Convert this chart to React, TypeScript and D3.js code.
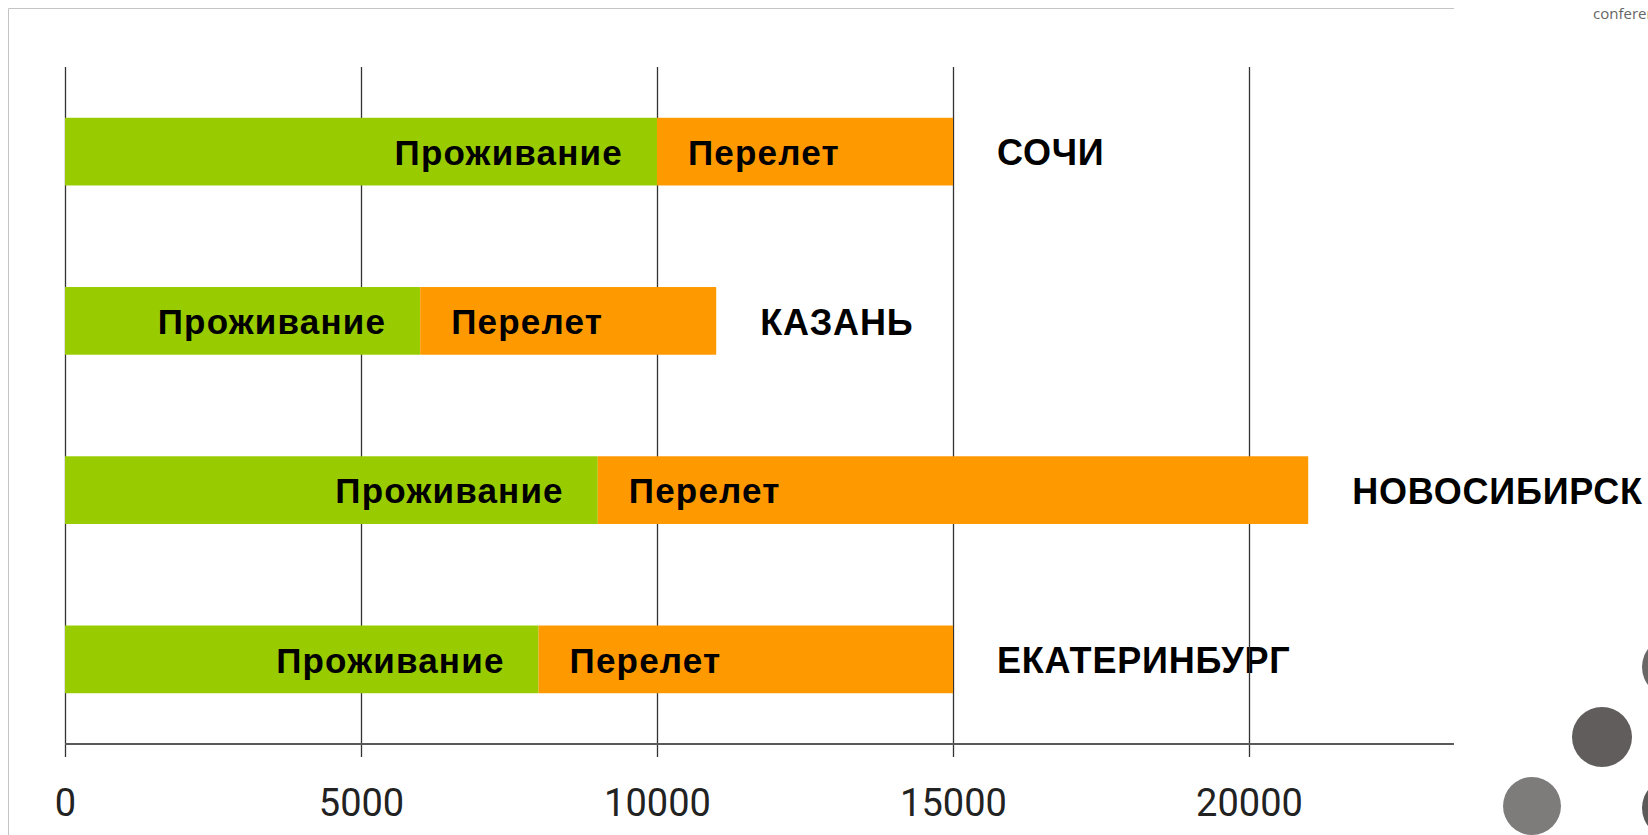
import React, { useEffect, useRef } from 'react';
import * as d3 from 'd3';

// cost of a trip per city: accommodation + flight
const cities = ['СОЧИ', 'КАЗАНЬ', 'НОВОСИБИРСК', 'ЕКАТЕРИНБУРГ'];
const stay = [10000, 6000, 9000, 8000];
const flight = [5000, 5000, 12000, 7000];
const ticks = [0, 5000, 10000, 15000, 20000];
const stayLabel = 'Проживание';
const flightLabel = 'Перелет';

const W = 1648;
const H = 835;
const left = 65;
const top = 67;
const axisY = 744;

export default function App() {
  const ref = useRef<SVGSVGElement>(null);

  useEffect(() => {
    const svg = d3.select(ref.current);
    svg.selectAll('*').remove();

    const x = d3.scaleLinear().domain([0, 5000]).range([left, 361]);
    const y = d3.scaleBand().domain(cities).range([top, axisY]).paddingInner(0.6).paddingOuter(0.3);

    const rows = cities.map((c, i) => ({ city: c, stay: stay[i], total: stay[i] + flight[i] }));

    // frame (top + left edge of the slide box)
    svg.append('path')
      .attr('d', `M8.5,${H} V8.5 H1454`)
      .attr('fill', 'none')
      .attr('stroke', '#c4c4c4')
      .attr('stroke-width', 1);

    // city names (drawn under the grid)
    svg.append('g')
      .selectAll('text')
      .data(rows)
      .join('text')
      .attr('x', d => x(d.total) + 44)
      .attr('y', d => y(d.city)! + y.bandwidth() / 2)
      .attr('dy', '0.38em')
      .attr('font-family', '"Liberation Sans", Arial, sans-serif')
      .attr('font-weight', 'bold')
      .attr('font-size', 36)
      .attr('letter-spacing', 0.8)
      .attr('fill', '#000')
      .text(d => d.city);

    // grid + x axis
    const xAxis = d3.axisBottom(x)
      .tickValues(ticks)
      .tickSize(-(axisY - top))
      .tickSizeOuter(0)
      .tickFormat(d => `${d}`);

    const g = svg.append('g')
      .attr('transform', `translate(0, ${axisY})`)
      .call(xAxis);
    g.select('.domain').remove();
    g.selectAll('.tick line')
      .attr('y2', -(axisY - top))
      .attr('y1', 13)
      .attr('stroke', '#333')
      .attr('stroke-width', 1.3);
    g.selectAll('.tick text')
      .attr('y', 72)
      .attr('dy', 0)
      .attr('fill', '#222')
      .attr('font-family', 'Roboto, sans-serif')
      .attr('font-size', 38);

    svg.append('line')
      .attr('x1', left)
      .attr('x2', 1454)
      .attr('y1', axisY)
      .attr('y2', axisY)
      .attr('stroke', '#5a5a5a')
      .attr('stroke-width', 2);

    // stacked bars
    const bars = svg.append('g');
    bars.selectAll('rect.stay')
      .data(rows)
      .join('rect')
      .attr('class', 'stay')
      .attr('x', x(0))
      .attr('y', d => y(d.city)!)
      .attr('width', d => x(d.stay) - x(0))
      .attr('height', y.bandwidth())
      .attr('fill', '#99cc00');
    bars.selectAll('rect.flight')
      .data(rows)
      .join('rect')
      .attr('class', 'flight')
      .attr('x', d => x(d.stay))
      .attr('y', d => y(d.city)!)
      .attr('width', d => x(d.total) - x(d.stay))
      .attr('height', y.bandwidth())
      .attr('fill', '#ff9900');

    // labels inside the bars
    const lbl = svg.append('g')
      .attr('font-family', '"Liberation Sans", Arial, sans-serif')
      .attr('font-weight', 'bold')
      .attr('font-size', 35)
      .attr('letter-spacing', 1.2)
      .attr('fill', '#000');
    lbl.selectAll('text.s')
      .data(rows)
      .join('text')
      .attr('class', 's')
      .attr('x', d => x(d.stay) - 34)
      .attr('y', d => y(d.city)! + y.bandwidth() / 2)
      .attr('dy', '0.38em')
      .attr('text-anchor', 'end')
      .text(stayLabel);
    lbl.selectAll('text.f')
      .data(rows)
      .join('text')
      .attr('class', 'f')
      .attr('x', d => x(d.stay) + 31)
      .attr('y', d => y(d.city)! + y.bandwidth() / 2)
      .attr('dy', '0.38em')
      .text(flightLabel);

    // slide decoration on the right
    svg.append('text')
      .attr('x', 1593)
      .attr('y', 19)
      .attr('font-family', '"Open Sans", sans-serif')
      .attr('font-size', 15)
      .attr('fill', '#666')
      .text('conference');

    const dots = [
      { cx: 1672, cy: 667, r: 30, c: '#6a6766' },
      { cx: 1602, cy: 737, r: 30, c: '#605d5c' },
      { cx: 1532, cy: 806, r: 29, c: '#7e7c7b' },
      { cx: 1672, cy: 808, r: 30, c: '#5c5958' }
    ];
    svg.append('g')
      .selectAll('circle')
      .data(dots)
      .join('circle')
      .attr('cx', d => d.cx)
      .attr('cy', d => d.cy)
      .attr('r', d => d.r)
      .attr('fill', d => d.c);
  }, []);

  return (
    <div style={{ position: 'fixed', left: 0, top: 0, width: W, height: H, background: '#fff' }}>
      <svg ref={ref} width={W} height={H} />
    </div>
  );
}
